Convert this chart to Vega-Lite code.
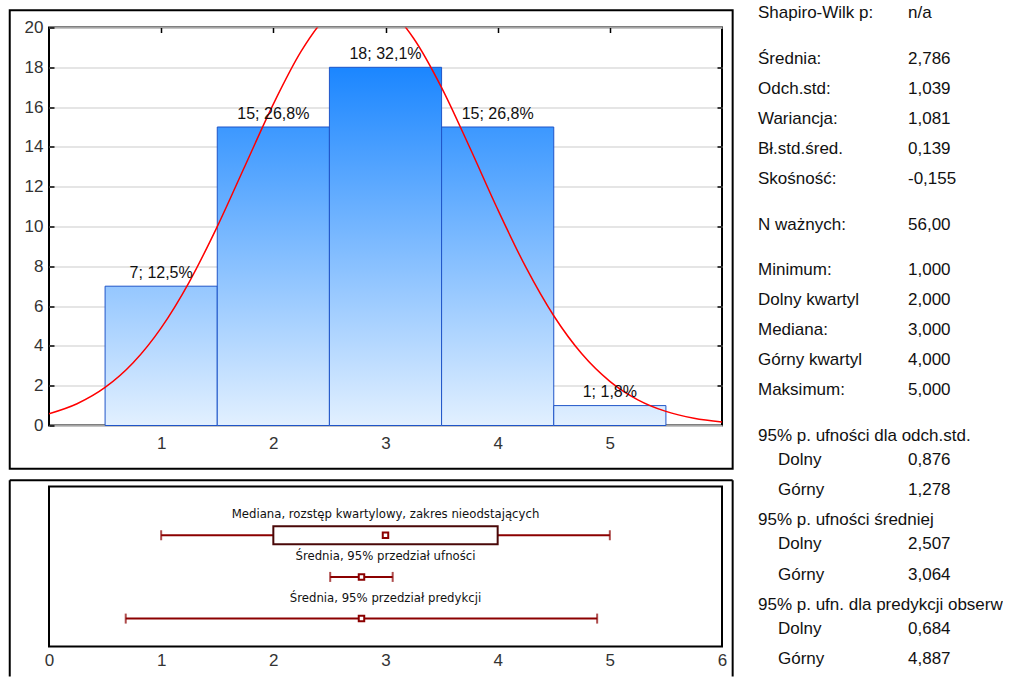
{
  "$schema": "https://vega.github.io/schema/vega-lite/v6.json",
  "background": "white",
  "padding": {"left": 7, "top": 3.5, "right": 0, "bottom": 0},
  "bounds": "flush",
  "columns": 2,
  "spacing": {"row": 61, "column": 36},
  "config": {
    "font": "Liberation Sans",
    "view": {"stroke": "black", "strokeWidth": 2},
    "axis": {"domain": false, "labelFont": "Liberation Sans", "labelFontSize": 17, "labelColor": "#333333", "tickColor": "#000000", "title": null, "grid": false, "labelFlush": false}
  },
  "concat": [
    {
      "width": 673,
      "height": 398,
      "layer": [
        {
          "data": {"values": [{}]},
          "mark": {"type": "rect", "fill": "transparent", "stroke": "black", "strokeWidth": 2, "clip": false},
          "encoding": {
            "x": {"datum": -0.35, "type": "quantitative", "scale": {"domain": [0, 6], "nice": false, "zero": false}, "axis": null},
            "x2": {"datum": 6.095},
            "y": {"datum": -2.17, "type": "quantitative", "scale": {"domain": [0, 20], "nice": false, "zero": false}, "axis": null},
            "y2": {"datum": 20.87}
          }
        },
        {
          "data": {"name": "bins"},
          "mark": {"type": "rect", "stroke": "#1f55c8", "strokeWidth": 1},
          "encoding": {
            "x": {"field": "bin0", "type": "quantitative", "scale": {"domain": [0, 6], "nice": false, "zero": false},
                  "axis": {"orient": "bottom", "values": [1, 2, 3, 4, 5], "tickSize": -5, "tickWidth": 1.5, "labelPadding": 15}},
            "x2": {"field": "bin1"},
            "y": {"field": "count", "type": "quantitative", "scale": {"domain": [0, 20], "nice": false, "zero": false},
                  "axis": {"orient": "left", "values": [0, 2, 4, 6, 8, 10, 12, 14, 16, 18, 20], "tickSize": -5, "tickWidth": 1.5, "labelPadding": 11, "grid": true, "gridColor": "#dcdcdc", "gridWidth": 1.5}},
            "y2": {"datum": 0},
            "fill": {
              "condition": [
                {"test": "datum.count == 18", "value": {"gradient": "linear", "x1": 0, "y1": 1, "x2": 0, "y2": 0, "stops": [{"offset": 0, "color": "#e2f0ff"}, {"offset": 1, "color": "#1b86ff"}]}},
                {"test": "datum.count == 15", "value": {"gradient": "linear", "x1": 0, "y1": 1, "x2": 0, "y2": 0, "stops": [{"offset": 0, "color": "#e2f0ff"}, {"offset": 1, "color": "#3c98ff"}]}},
                {"test": "datum.count == 7", "value": {"gradient": "linear", "x1": 0, "y1": 1, "x2": 0, "y2": 0, "stops": [{"offset": 0, "color": "#e2f0ff"}, {"offset": 1, "color": "#95c7ff"}]}}
              ],
              "value": {"gradient": "linear", "x1": 0, "y1": 1, "x2": 0, "y2": 0, "stops": [{"offset": 0, "color": "#e2f0ff"}, {"offset": 1, "color": "#d7eaff"}]}
            }
          }
        },
        {
          "data": {"name": "curve"},
          "mark": {"type": "line", "color": "#ff0000", "strokeWidth": 1.5, "clip": true, "interpolate": "monotone"},
          "encoding": {
            "x": {"field": "x", "type": "quantitative", "scale": {"domain": [0, 6], "nice": false, "zero": false},
                  "axis": {"orient": "top", "values": [1, 2, 3, 4, 5], "labels": false, "tickSize": -5, "tickWidth": 1.5}},
            "y": {"field": "y", "type": "quantitative", "scale": {"domain": [0, 20], "nice": false, "zero": false},
                  "axis": {"orient": "right", "values": [2, 4, 6, 8, 10, 12, 14, 16, 18], "labels": false, "tickSize": -5, "tickWidth": 1.5}}
          }
        },
        {
          "data": {"name": "bins"},
          "mark": {"type": "text", "fontSize": 16, "baseline": "alphabetic", "dy": -8.5, "color": "#111111"},
          "encoding": {
            "x": {"field": "value", "type": "quantitative", "scale": {"domain": [0, 6], "nice": false, "zero": false}, "axis": null},
            "y": {"field": "count", "type": "quantitative", "scale": {"domain": [0, 20], "nice": false, "zero": false}, "axis": null},
            "text": {"field": "label"}
          }
        }
      ],
      "resolve": {"axis": {"x": "independent", "y": "independent"}}
    },
    {
      "width": 150,
      "height": 398,
      "view": {"stroke": null},
      "data": {"name": "stats"},
      "layer": [
        {
          "transform": [{"filter": "datum.indent == 0"}],
          "mark": {"type": "text", "align": "left", "baseline": "middle", "fontSize": 17, "color": "#111111", "limit": 254, "ellipsis": "\u200b"},
          "encoding": {
            "x": {"datum": 0, "type": "quantitative", "scale": {"domain": [0, 1], "nice": false, "zero": false}, "axis": null},
            "y": {"field": "line", "type": "quantitative", "scale": {"domain": [0.47, 13.66], "reverse": true, "nice": false, "zero": false}, "axis": null},
            "text": {"field": "label"}
          }
        },
        {
          "transform": [{"filter": "datum.indent == 1"}],
          "mark": {"type": "text", "align": "left", "baseline": "middle", "fontSize": 17, "color": "#111111", "dx": 20},
          "encoding": {
            "x": {"datum": 0, "type": "quantitative", "scale": {"domain": [0, 1], "nice": false, "zero": false}, "axis": null},
            "y": {"field": "line", "type": "quantitative", "scale": {"domain": [0.47, 13.66], "reverse": true, "nice": false, "zero": false}, "axis": null},
            "text": {"field": "label"}
          }
        },
        {
          "mark": {"type": "text", "align": "left", "baseline": "middle", "fontSize": 17, "color": "#111111"},
          "encoding": {
            "x": {"datum": 1, "type": "quantitative", "scale": {"domain": [0, 1], "nice": false, "zero": false}, "axis": null},
            "y": {"field": "line", "type": "quantitative", "scale": {"domain": [0.47, 13.66], "reverse": true, "nice": false, "zero": false}, "axis": null},
            "text": {"field": "value"}
          }
        }
      ]
    },
    {
      "width": 673,
      "height": 160,
      "layer": [
        {
          "data": {"values": [{}]},
          "mark": {"type": "rule", "color": "black", "strokeWidth": 2, "clip": false},
          "encoding": {
            "x": {"datum": -0.35, "type": "quantitative", "scale": {"domain": [0, 6], "nice": false, "zero": false}, "axis": null},
            "x2": {"datum": 6.095},
            "y": {"datum": -0.32, "type": "quantitative", "scale": {"domain": [-0.05, 3.55], "reverse": true, "nice": false, "zero": false}, "axis": null}
          }
        },
        {
          "data": {"values": [{}]},
          "mark": {"type": "rule", "color": "black", "strokeWidth": 2, "clip": false},
          "encoding": {
            "x": {"datum": -0.35, "type": "quantitative", "scale": {"domain": [0, 6], "nice": false, "zero": false}, "axis": null},
            "y": {"datum": -0.32, "type": "quantitative", "scale": {"domain": [-0.05, 3.55], "reverse": true, "nice": false, "zero": false}, "axis": null},
            "y2": {"datum": 4.39}
          }
        },
        {
          "data": {"values": [{}]},
          "mark": {"type": "rule", "color": "black", "strokeWidth": 2, "clip": false},
          "encoding": {
            "x": {"datum": 6.095, "type": "quantitative", "scale": {"domain": [0, 6], "nice": false, "zero": false}, "axis": null},
            "y": {"datum": -0.32, "type": "quantitative", "scale": {"domain": [-0.05, 3.55], "reverse": true, "nice": false, "zero": false}, "axis": null},
            "y2": {"datum": 4.39}
          }
        },
        {
          "data": {"name": "box"},
          "mark": {"type": "rule", "color": "#8b0000", "strokeWidth": 2},
          "encoding": {
            "x": {"field": "lo", "type": "quantitative", "scale": {"domain": [0, 6], "nice": false, "zero": false},
                  "axis": {"orient": "bottom", "values": [0, 1, 2, 3, 4, 5, 6], "ticks": false, "labelPadding": 6}},
            "x2": {"field": "hi"},
            "y": {"field": "row", "type": "quantitative", "scale": {"domain": [-0.05, 3.55], "reverse": true, "nice": false, "zero": false}, "axis": null}
          }
        },
        {
          "data": {"name": "box"},
          "transform": [{"filter": "isValid(datum.q1)"}],
          "mark": {"type": "bar", "size": 18, "fill": "white", "stroke": "#4a0808", "strokeWidth": 2},
          "encoding": {
            "x": {"field": "q1", "type": "quantitative", "scale": {"domain": [0, 6], "nice": false, "zero": false}, "axis": null},
            "x2": {"field": "q3"},
            "y": {"field": "row", "type": "quantitative", "scale": {"domain": [-0.05, 3.55], "reverse": true, "nice": false, "zero": false}, "axis": null}
          }
        },
        {
          "data": {"name": "box"},
          "transform": [{"fold": ["lo", "hi"], "as": ["end", "pos"]}],
          "mark": {"type": "tick", "orient": "vertical", "size": 10, "thickness": 2, "color": "#8b0000"},
          "encoding": {
            "x": {"field": "pos", "type": "quantitative", "scale": {"domain": [0, 6], "nice": false, "zero": false}, "axis": null},
            "y": {"field": "row", "type": "quantitative", "scale": {"domain": [-0.05, 3.55], "reverse": true, "nice": false, "zero": false}, "axis": null}
          }
        },
        {
          "data": {"name": "box"},
          "mark": {"type": "square", "size": 30, "fill": "white", "stroke": "#8b0000", "strokeWidth": 2, "opacity": 1, "fillOpacity": 1},
          "encoding": {
            "x": {"field": "mid", "type": "quantitative", "scale": {"domain": [0, 6], "nice": false, "zero": false}, "axis": null},
            "y": {"field": "row", "type": "quantitative", "scale": {"domain": [-0.05, 3.55], "reverse": true, "nice": false, "zero": false}, "axis": null}
          }
        },
        {
          "data": {"name": "box"},
          "mark": {"type": "text", "font": "Liberation Sans Narrow, DejaVu Sans Condensed, sans-serif", "fontSize": 13, "baseline": "middle", "dy": -21, "color": "#111111"},
          "encoding": {
            "x": {"datum": 3, "type": "quantitative", "scale": {"domain": [0, 6], "nice": false, "zero": false}, "axis": null},
            "y": {"field": "row", "type": "quantitative", "scale": {"domain": [-0.05, 3.55], "reverse": true, "nice": false, "zero": false}, "axis": null},
            "text": {"field": "name"}
          }
        }
      ],
      "resolve": {"axis": {"x": "independent", "y": "independent"}}
    }
  ],
  "datasets": {
    "bins": [
      {"value": 1, "bin0": 0.5, "bin1": 1.5, "count": 7, "label": "7; 12,5%"},
      {"value": 2, "bin0": 1.5, "bin1": 2.5, "count": 15, "label": "15; 26,8%"},
      {"value": 3, "bin0": 2.5, "bin1": 3.5, "count": 18, "label": "18; 32,1%"},
      {"value": 4, "bin0": 3.5, "bin1": 4.5, "count": 15, "label": "15; 26,8%"},
      {"value": 5, "bin0": 4.5, "bin1": 5.5, "count": 1, "label": "1; 1,8%"}
    ],
    "curve": [
      {"x": 0, "y": 0.590}, {"x": 0.25, "y": 1.093}, {"x": 0.5, "y": 1.911}, {"x": 0.75, "y": 3.152},
      {"x": 1, "y": 4.907}, {"x": 1.25, "y": 7.210}, {"x": 1.5, "y": 9.996}, {"x": 1.75, "y": 13.080},
      {"x": 2, "y": 16.151}, {"x": 2.25, "y": 18.823}, {"x": 2.5, "y": 20.703}, {"x": 2.75, "y": 21.489},
      {"x": 3, "y": 21.051}, {"x": 3.25, "y": 19.461}, {"x": 3.5, "y": 16.980}, {"x": 3.75, "y": 13.981},
      {"x": 4, "y": 10.865}, {"x": 4.25, "y": 7.968}, {"x": 4.5, "y": 5.515}, {"x": 4.75, "y": 3.603},
      {"x": 5, "y": 2.221}, {"x": 5.25, "y": 1.292}, {"x": 5.5, "y": 0.709}, {"x": 5.75, "y": 0.367},
      {"x": 6, "y": 0.180}
    ],
    "box": [
      {"row": 1, "name": "Mediana, rozstęp kwartylowy, zakres nieodstających", "lo": 1, "q1": 2, "q3": 4, "hi": 5, "mid": 3},
      {"row": 2, "name": "Średnia, 95% przedział ufności", "lo": 2.507, "hi": 3.064, "mid": 2.786},
      {"row": 3, "name": "Średnia, 95% przedział predykcji", "lo": 0.684, "hi": 4.887, "mid": 2.786}
    ],
    "stats": [
      {"label": "Shapiro-Wilk p:", "value": "n/a", "line": 0, "indent": 0},
      {"label": "Średnia:", "value": "2,786", "line": 1.5, "indent": 0},
      {"label": "Odch.std:", "value": "1,039", "line": 2.5, "indent": 0},
      {"label": "Wariancja:", "value": "1,081", "line": 3.5, "indent": 0},
      {"label": "Bł.std.śred.", "value": "0,139", "line": 4.5, "indent": 0},
      {"label": "Skośność:", "value": "-0,155", "line": 5.5, "indent": 0},
      {"label": "N ważnych:", "value": "56,00", "line": 7, "indent": 0},
      {"label": "Minimum:", "value": "1,000", "line": 8.5, "indent": 0},
      {"label": "Dolny kwartyl", "value": "2,000", "line": 9.5, "indent": 0},
      {"label": "Mediana:", "value": "3,000", "line": 10.5, "indent": 0},
      {"label": "Górny kwartyl", "value": "4,000", "line": 11.5, "indent": 0},
      {"label": "Maksimum:", "value": "5,000", "line": 12.5, "indent": 0},
      {"label": "95% p. ufności dla odch.std.", "value": "", "line": 14, "indent": 0},
      {"label": "Dolny", "value": "0,876", "line": 14.8, "indent": 1},
      {"label": "Górny", "value": "1,278", "line": 15.8, "indent": 1},
      {"label": "95% p. ufności średniej", "value": "", "line": 16.8, "indent": 0},
      {"label": "Dolny", "value": "2,507", "line": 17.6, "indent": 1},
      {"label": "Górny", "value": "3,064", "line": 18.6, "indent": 1},
      {"label": "95% p. ufn. dla predykcji obserwacji", "value": "", "line": 19.6, "indent": 0},
      {"label": "Dolny", "value": "0,684", "line": 20.4, "indent": 1},
      {"label": "Górny", "value": "4,887", "line": 21.4, "indent": 1}
    ]
  }
}
